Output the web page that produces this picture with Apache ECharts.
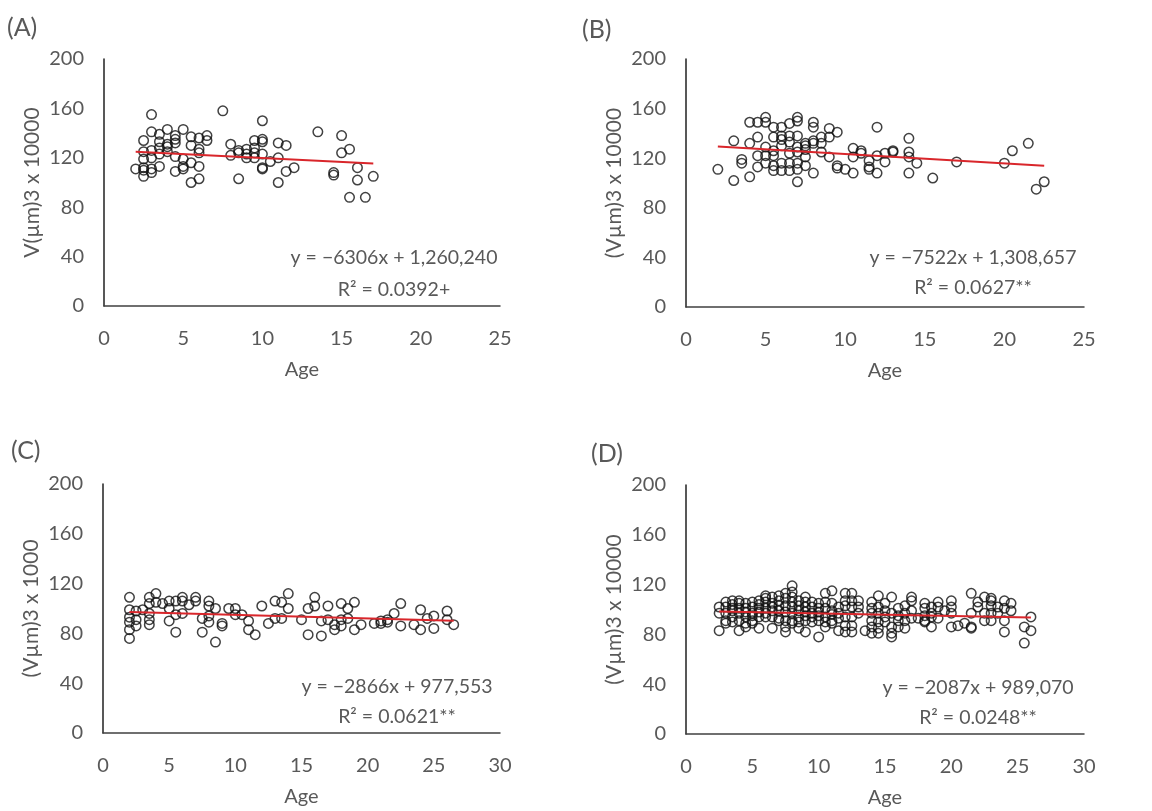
<!DOCTYPE html>
<html><head><meta charset="utf-8">
<script src="https://cdn.jsdelivr.net/npm/echarts@6/dist/echarts.min.js"></script>
<style>html,body{margin:0;padding:0;background:#fff}#c{width:1152px;height:811px}</style>
</head><body><div id="c"></div>
<script>
const panelLabels = ['(A)', '(B)', '(C)', '(D)'];
const yAxisNames = ['V(µm)3 x 10000', '(Vµm)3 x 10000', '(Vµm)3 x 1000', '(Vµm)3 x 10000'];
const xAxisName = 'Age';
const xMax = [25, 25, 30, 30];
const yMax = 200;
const equations = ['y = −6306x + 1,260,240', 'y = −7522x + 1,308,657', 'y = −2866x + 977,553', 'y = −2087x + 989,070'];
const rSquared = ['R² = 0.0392+', 'R² = 0.0627**', 'R² = 0.0621**', 'R² = 0.0248**'];

// trend line end points
const trendA = [[2, 124.8], [17, 115.3]];
const trendB = [[2, 129.4], [22.5, 113.9]];
const trendC = [[2, 97.2], [26.5, 90.2]];
const trendD = [[2.5, 98.4], [26, 93.5]];

const dataA = [
  [2,111],[2.5,134],[2.5,125],[2.5,119],[2.5,112],[2.5,105],[2.5,110],
  [3,155],[3,141],[3,126],[3,120],[3,111],[3,108],
  [3.5,139],[3.5,133],[3.5,128],[3.5,123],[3.5,113],
  [4,143],[4,129],[4,125],[4,131],
  [4.5,138],[4.5,132],[4.5,121],[4.5,109],[4.5,135],
  [5,143],[5,119],[5,111],[5,113],
  [5.5,137],[5.5,130],[5.5,116],[5.5,100],
  [6,136],[6,127],[6,124],[6,113],[6,103],
  [6.5,138],[6.5,134],
  [7.5,158],
  [8,131],[8,122],
  [8.5,126],[8.5,103],[8.5,124],
  [9,127],[9,123],[9,120],
  [9.5,134],[9.5,128],[9.5,124],[9.5,120],
  [10,150],[10,135],[10,133],[10,123],[10,112],[10,111],
  [10.5,117],
  [11,132],[11,120],[11,100],
  [11.5,130],[11.5,109],
  [12,112],
  [13.5,141],
  [14.5,108],[14.5,106],
  [15,138],[15,124],
  [15.5,127],[15.5,88],
  [16,112],[16,102],
  [16.5,88],
  [17,105]
];

const dataB = [
  [2,111],[3,134],[3,102],[3.5,119],[3.5,116],[4,132],[4,105],[4,149],
  [4.5,149],[4.5,137],[4.5,122],[4.5,113],
  [5,153],[5,149],[5,129],[5,122],[5,116],
  [5.5,145],[5.5,137],[5.5,122],[5.5,114],[5.5,110],[5.5,126],
  [6,145],[6,138],[6,130],[6,116],[6,110],[6,135],
  [6.5,148],[6.5,138],[6.5,124],[6.5,110],[6.5,116],[6.5,133],
  [7,153],[7,150],[7,138],[7,129],[7,125],[7,116],[7,111],[7,101],
  [7.5,132],[7.5,127],[7.5,121],[7.5,114],[7.5,130],
  [8,149],[8,145],[8,132],[8,108],[8,134],
  [8.5,137],[8.5,132],[8.5,125],
  [9,144],[9,121],[9,137],[9.5,141],[9.5,114],[9.5,112],
  [10,111],
  [10.5,128],[10.5,121],[10.5,108],
  [11,126],[11,124],
  [11.5,118],[11.5,113],[11.5,111],
  [12,145],[12,122],[12,108],
  [12.5,117],[12.5,124],[13,126],[13,125],
  [14,136],[14,125],[14,121],[14,108],
  [14.5,116],[15.5,104],[17,117],
  [20,116],[20.5,126],[21.5,132],[22,95],[22.5,101]
];

const dataC = [
  [2,109],[2,99],[2,93],[2,89],[2,83],[2,76],
  [2.5,98],[2.5,91],[2.5,86],[3,99],
  [3.5,109],[3.5,104],[3.5,96],[3.5,91],[3.5,87],
  [4,112],[4,105],[4.5,104],
  [5,106],[5,100],[5,90],
  [5.5,106],[5.5,95],[5.5,81],
  [6,109],[6,106],[6,96],[6.5,103],
  [7,109],[7,106],[7.5,92],[7.5,81],
  [8,106],[8,102],[8,94],[8,89],
  [8.5,100],[8.5,73],[9,88],[9,86],
  [9.5,100],[10,100],[10,95],[10.5,95],
  [11,90],[11,83],[11.5,79],[12,102],[12.5,88],
  [13,106],[13,92],[13.5,105],[13.5,92],
  [14,112],[14,100],[15,91],[15.5,100],[15.5,79],
  [16,109],[16,102],[16.5,90],[16.5,78],
  [17,102],[17,91],[17.5,83],[17.5,87],
  [18,104],[18,91],[18,86],[18.5,100],[18.5,92],
  [19,105],[19,83],[19.5,87],[20.5,88],
  [21,88],[21,90],[21.5,89],[21.5,91],[22,96],
  [22.5,104],[22.5,86],[23.5,87],[24,99],[24,83],
  [24.5,92],[25,94],[25,84],[26,98],[26,91],[26.5,87]
];

// panel D, grouped by age: [age, [values...]]
const dataDGroups = [
  [2.5,[102,97,83]],
  [3,[106,102,97,91,89]],
  [3.5,[107,104,99,94,90,101]],
  [4,[107,105,101,97,91,83]],
  [4.5,[105,101,94,89,86,98]],
  [5,[106,102,97,91,89,95]],
  [5.5,[107,104,101,94,85,98]],
  [6,[111,109,106,101,94,97]],
  [6.5,[110,105,99,94,85,102]],
  [7,[111,107,103,99,93,91]],
  [7.5,[113,109,103,98,91,86,82]],
  [8,[119,114,110,106,102,97,91,89]],
  [8.5,[107,103,99,94,90,85]],
  [9,[110,106,102,95,91,82,98]],
  [9.5,[106,102,97,90,94]],
  [10,[105,101,95,91,78,98]],
  [10.5,[113,106,101,94,90,86]],
  [11,[115,105,99,91,89,96]],
  [11.5,[102,97,93,83]],
  [12,[113,107,103,94,87,82]],
  [12.5,[113,107,102,94,87,82]],
  [13,[107,102,97]],
  [13.5,[83]],
  [14,[106,101,97,91,86,81]],
  [14.5,[111,102,97,90,85,81]],
  [15,[105,99,94,90]],
  [15.5,[110,97,86,81,78]],
  [16,[101,95,91,86]],
  [16.5,[103,97,91,85]],
  [17,[110,107,99,93]],
  [17.5,[93]],
  [18,[105,101,95,91,90]],
  [18.5,[102,97,94,86]],
  [19,[106,102,93]],
  [19.5,[99]],
  [20,[107,102,97,86]],
  [20.5,[87]],
  [21,[89]],
  [21.5,[113,97,86,85]],
  [22,[106,102]],
  [22.5,[110,97,91]],
  [23,[109,107,103,97,91]],
  [23.5,[97,102]],
  [24,[107,101,91,82]],
  [24.5,[105,99]],
  [25.5,[86,73]],
  [26,[94,83]]
];
const dataD = [];
dataDGroups.forEach(g => g[1].forEach(v => dataD.push([g[0], v])));

const datasets = [dataA, dataB, dataC, dataD];
const trends = [trendA, trendB, trendC, trendD];

const FONT = 'Lato, "Open Sans", sans-serif';
const GRAY = '#595959';
const grids = [
  {left: 104, top: 59, width: 396, height: 247},
  {left: 686, top: 59, width: 398, height: 248},
  {left: 103, top: 484, width: 397, height: 249},
  {left: 686, top: 485, width: 398, height: 249}
];
const labelPos = [[7, 29], [582, 31], [11, 452], [591, 455]];
const eqPos = [[394, 258, 290], [973, 258, 288], [397, 687, 717], [978, 688, 718]];

const option = {
  backgroundColor: '#fff',
  animation: false,
  grid: grids,
  xAxis: grids.map((g, i) => ({
    gridIndex: i, type: 'value', min: 0, max: xMax[i], interval: 5,
    name: xAxisName, nameLocation: 'middle', nameGap: 54,
    nameTextStyle: {color: GRAY, fontSize: 20, fontFamily: FONT},
    axisLine: {show: true, onZero: false, lineStyle: {color: '#404040', width: 1.5}},
    axisTick: {show: false}, splitLine: {show: false},
    axisLabel: {color: GRAY, fontSize: 20, fontFamily: FONT, margin: 23}
  })),
  yAxis: grids.map((g, i) => ({
    gridIndex: i, type: 'value', min: 0, max: yMax, interval: 40,
    name: yAxisNames[i], nameLocation: 'middle', nameGap: 61,
    nameTextStyle: {color: GRAY, fontSize: 21, fontFamily: FONT},
    axisLine: {show: true, onZero: false, lineStyle: {color: '#202020', width: 1.5}},
    axisTick: {show: false}, splitLine: {show: false},
    axisLabel: {color: GRAY, fontSize: 20, fontFamily: FONT, margin: 20}
  })),
  series: [].concat(
    datasets.map((d, i) => ({
      type: 'scatter', xAxisIndex: i, yAxisIndex: i, data: d,
      symbol: 'circle', symbolSize: 9.5,
      itemStyle: {color: 'rgba(0,0,0,0)', borderColor: '#111', borderWidth: 1.5},
      z: 2
    })),
    trends.map((t, i) => ({
      type: 'line', xAxisIndex: i, yAxisIndex: i, data: t,
      symbol: 'none', lineStyle: {color: '#d9262b', width: 2}, z: 3
    }))
  ),
  graphic: [].concat(
    panelLabels.map((t, i) => ({
      type: 'text', left: labelPos[i][0], top: labelPos[i][1] - 14,
      style: {text: t, fill: GRAY, font: '25px ' + FONT}
    })),
    equations.map((t, i) => ({
      type: 'text', x: eqPos[i][0], y: eqPos[i][1],
      style: {text: t, fill: GRAY, font: '19.5px ' + FONT, textAlign: 'center', textVerticalAlign: 'middle'}
    })),
    rSquared.map((t, i) => ({
      type: 'text', x: eqPos[i][0], y: eqPos[i][2],
      style: {text: t, fill: GRAY, font: '19.5px ' + FONT, textAlign: 'center', textVerticalAlign: 'middle'}
    }))
  )
};
echarts.init(document.getElementById('c'), null, {renderer: 'canvas'}).setOption(option);
</script>
</body></html>
